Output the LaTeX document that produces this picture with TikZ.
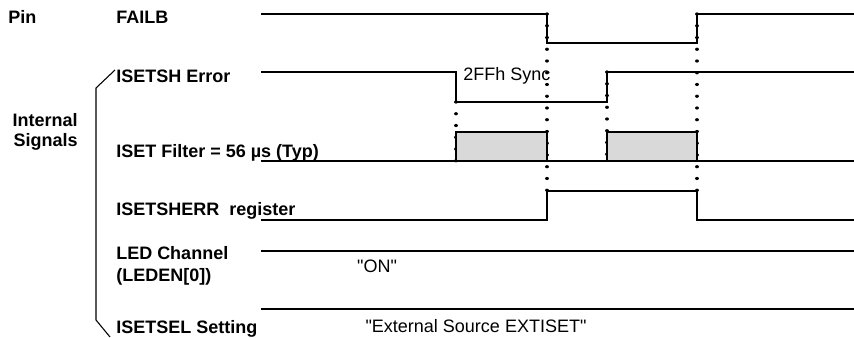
\documentclass[tikz,border=0pt]{standalone}
\usepackage{fontspec}
\setmainfont{Liberation Sans}[Ligatures=TeXOff]
\begin{document}
\begin{tikzpicture}[x=0.75pt, y=-0.75pt,
    every node/.style={font=\fontsize{13.5}{16.5}\selectfont, inner sep=0pt},
    lbl/.style={anchor=base west, font=\fontsize{13.5}{16.5}\selectfont\bfseries},
    wave/.style={line width=1.1pt},
    guide/.style={line width=2.4pt, dash pattern=on 0.01pt off 8.8pt, line cap=round}]
    \useasboundingbox (0,0) rectangle (854,337);
    \node[lbl] (pin) at (8,23) {Pin};
    \node[lbl] (failb) at (116,23) {FAILB};
    \node[lbl] (isetsh) at (116,82) {ISETSH Error};
    \node[lbl, anchor=base east, align=right, font=\fontsize{13.5}{14.3}\selectfont\bfseries] (internal) at (78,146) {Internal\\Signals};
    \node[lbl] (filter) at (116,157) {ISET Filter = 56 µs (Typ)};
    \node[lbl] (shreg) at (116,215) {ISETSHERR~~register};
    \node[lbl, align=left] (ledch) at (116,281) {LED Channel\\(LEDEN[0])};
    \node[lbl] (isetsel) at (116,333) {ISETSEL Setting};
    \draw[guide] (547,14) -- (547,191);
    \draw[guide] (697,14) -- (697,191);
    \draw[guide] (456,102) -- (456,161);
    \draw[guide] (607,72) -- (607,161);
    \draw[wave] (261,14) -- (547,14) -- (547,43) -- (697,43) -- (697,14) -- (854,14);
    \draw[wave] (261,72) -- (456,72) -- (456,102) -- (607,102) -- (607,72) -- (854,72);
    \draw[wave, fill=gray!30] (456,161) rectangle (547,132);
    \draw[wave, fill=gray!30] (607,161) rectangle (697,132);
    \draw[wave] (261,161) -- (854,161);
    \draw[wave] (261,220) -- (547,220) -- (547,191) -- (697,191) -- (697,220) -- (854,220);
    \draw[wave] (261,251) -- (854,251);
    \draw[wave] (261,309) -- (854,309);
    \node[anchor=base west] (sync) at (463,80) {2FFh Sync};
    \node[anchor=base] (on) at (377,272) {"ON"};
    \node[anchor=base] (extsrc) at (476,332) {"External Source EXTISET"};
    \draw[line width=0.8pt] (115,70) -- (96,88) -- (96,320) -- (110,337);
\end{tikzpicture}
\end{document}
